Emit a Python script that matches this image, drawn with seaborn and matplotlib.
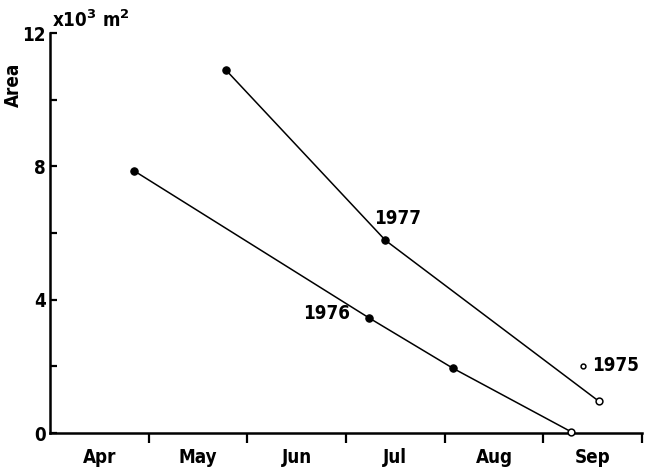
import seaborn as sns
import matplotlib.pyplot as plt
import pandas as pd

# months counted from 1 April (0 = Apr 1, 1 = May 1, ...)
months_1977 = [1.78, 3.40, 5.56]
area_1977 = [10.9, 5.78, 0.96]
filled_1977 = [True, True, False]

months_1976 = [0.85, 3.23, 4.08, 5.28]
area_1976 = [7.87, 3.46, 1.95, 0.04]
filled_1976 = [True, True, True, False]

months_1975 = [5.40]
area_1975 = [2.02]

month_labels = ["Apr", "May", "Jun", "Jul", "Aug", "Sep"]
y_major = [0, 4, 8, 12]
y_minor = [2, 6, 10]

df = pd.DataFrame({
    "year": ["1977"] * 3 + ["1976"] * 4,
    "month": months_1977 + months_1976,
    "area": area_1977 + area_1976,
    "filled": filled_1977 + filled_1976,
})

sns.set_style("ticks")
plt.rcParams["font.family"] = ["DejaVu Sans"]
for key in ["text.color", "axes.labelcolor", "xtick.color", "ytick.color", "axes.edgecolor"]:
    plt.rcParams[key] = "black"
font = {"fontsize": 13.5, "fontweight": "bold", "fontstretch": "condensed"}

fig = plt.figure(figsize=(6.53, 4.75), dpi=100)
ax = fig.add_axes([0.0766, 0.0884, 0.9065, 0.842])

sns.lineplot(data=df, x="month", y="area", units="year", estimator=None,
             color="black", lw=1.1, ax=ax, sort=False)
sns.scatterplot(data=df[df["filled"]], x="month", y="area", color="black",
                s=28, edgecolor="black", linewidth=0.8, ax=ax, zorder=3)
sns.scatterplot(data=df[~df["filled"]], x="month", y="area", color="white",
                s=24, edgecolor="black", linewidth=1.1, ax=ax, zorder=3, clip_on=False)
sns.scatterplot(x=months_1975, y=area_1975, color="white", s=12,
                edgecolor="black", linewidth=1.1, ax=ax, zorder=3)

ax.set_xlim(0, 6)
ax.set_ylim(0, 12)
sns.despine(ax=ax)
for s in ["left", "bottom"]:
    ax.spines[s].set_linewidth(1.8)

# x: month boundaries as ticks, names in between
ax.set_xticks(range(1, 7))
ax.set_xticklabels([])
ax.set_xticks([i + 0.5 for i in range(6)], minor=True)
ax.set_xticklabels(month_labels, minor=True, **font)
ax.tick_params(axis="x", which="major", direction="out", length=7, width=1.6)
ax.tick_params(axis="x", which="minor", length=0, pad=11)

ax.set_yticks(y_major)
ax.set_yticklabels([str(v) for v in y_major], **font)
ax.set_yticks(y_minor, minor=True)
ax.tick_params(axis="y", which="both", direction="in", length=5, width=1.6, pad=3)

ax.set_xlabel("")
ax.set_ylabel("Area", **font)
ax.yaxis.set_label_coords(-0.045, 0.87)

ax.text(0.02, 12.05, r"x10$^{\mathbf{3}}$ m$^{\mathbf{2}}$", ha="left", va="bottom",
        clip_on=False, **font)
ax.text(3.52, 6.45, "1977", ha="center", va="center", **font)
ax.text(2.8, 3.6, "1976", ha="center", va="center", **font)
ax.text(5.73, 2.02, "1975", ha="center", va="center", **font)

plt.savefig("out.png", dpi=100)
